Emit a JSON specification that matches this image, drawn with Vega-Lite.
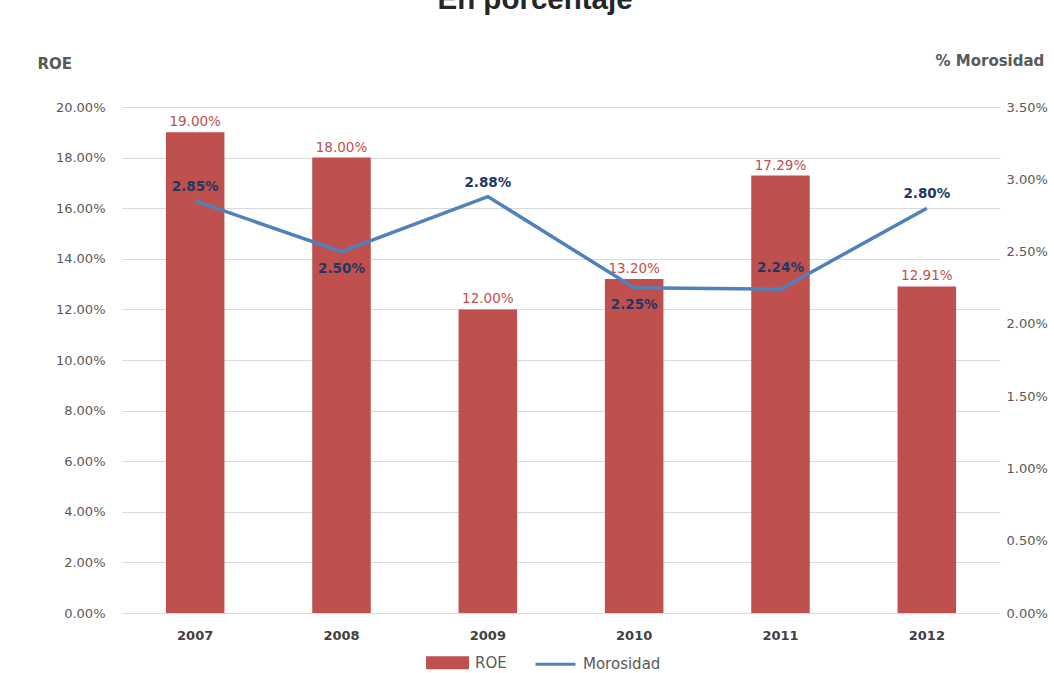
{
  "$schema": "https://vega.github.io/schema/vega-lite/v6.json",
  "autosize": {"type": "none"},
  "width": 878,
  "height": 506,
  "padding": {"left": 122, "top": 107, "right": 54, "bottom": 60},
  "background": "white",
  "title": {
    "text": "En porcentaje",
    "font": "Liberation Sans",
    "fontSize": 29.5,
    "fontWeight": "bold",
    "color": "#262626",
    "frame": "group",
    "anchor": "middle",
    "baseline": "alphabetic",
    "offset": 0,
    "dy": -15,
    "dx": -26
  },
  "config": {
    "view": {"stroke": null},
    "font": "DejaVu Sans"
  },
  "data": {
    "values": [
      {"year": "2007", "roe": 0.19, "moro": 0.0285},
      {"year": "2008", "roe": 0.18, "moro": 0.025},
      {"year": "2009", "roe": 0.12, "moro": 0.0288},
      {"year": "2010", "roe": 0.132, "moro": 0.0225},
      {"year": "2011", "roe": 0.1729, "moro": 0.0224},
      {"year": "2012", "roe": 0.1291, "moro": 0.028}
    ]
  },
  "encoding": {
    "x": {
      "field": "year",
      "type": "ordinal",
      "scale": {"paddingInner": 0.6, "paddingOuter": 0.3},
      "axis": {
        "title": null,
        "labelAngle": 0,
        "ticks": false,
        "domain": false,
        "labelPadding": 16,
        "labelFont": "DejaVu Sans",
        "labelFontWeight": "bold",
        "labelFontSize": 13,
        "labelColor": "#404040"
      }
    }
  },
  "layer": [
    {
      "encoding": {
        "y": {
          "field": "roe",
          "type": "quantitative",
          "scale": {"domain": [0, 0.2]},
          "axis": {
            "title": "ROE",
            "titleAngle": 0,
            "titleAlign": "left",
            "titleBaseline": "middle",
            "titleX": -85,
            "titleY": -44,
            "titleFont": "DejaVu Sans",
            "titleFontSize": 15,
            "titleFontWeight": "bold",
            "titleColor": "#595959",
            "values": [0, 0.02, 0.04, 0.06, 0.08, 0.1, 0.12, 0.14, 0.16, 0.18, 0.2],
            "format": ".2%",
            "grid": true,
            "gridColor": "#d9d9d9",
            "gridWidth": 1,
            "ticks": false,
            "domain": false,
            "labelPadding": 17,
            "labelFont": "DejaVu Sans",
            "labelFontSize": 13,
            "labelColor": "#595959"
          }
        }
      },
      "layer": [
        {
          "mark": {"type": "bar"},
          "encoding": {
            "color": {
              "datum": "ROE",
              "scale": {"domain": ["ROE", "Morosidad"], "range": ["#c0504d", "#4f81bd"]},
              "legend": {
                "title": null,
                "orient": "none",
                "direction": "horizontal",
                "legendX": 304,
                "legendY": 534,
                "padding": 0,
                "symbolSize": 1600,
                "labelOffset": 6,
                "columnPadding": 22,
                "labelFont": "DejaVu Sans",
                "labelFontSize": 15,
                "labelColor": "#595959",
                "encode": {
                  "symbols": {
                    "update": {
                      "shape": {"signal": "datum.value === 'ROE' ? 'M-1,-0.25L1,-0.25L1,0.25L-1,0.25Z' : 'stroke'"},
                      "fill": {"signal": "datum.value === 'ROE' ? '#c0504d' : 'transparent'"},
                      "stroke": {"signal": "datum.value === 'ROE' ? 'transparent' : '#4f81bd'"},
                      "strokeWidth": {"value": 3},
                      "opacity": {"value": 1}
                    }
                  }
                }
              }
            }
          }
        },
        {
          "mark": {
            "type": "text",
            "baseline": "bottom",
            "dy": -3,
            "font": "DejaVu Sans",
            "fontSize": 13.5,
            "color": "#c0504d"
          },
          "encoding": {
            "text": {"field": "roe", "type": "quantitative", "format": ".2%"}
          }
        }
      ]
    },
    {
      "encoding": {
        "y": {
          "field": "moro",
          "type": "quantitative",
          "scale": {"domain": [0, 0.035]},
          "axis": {
            "orient": "right",
            "title": "% Morosidad",
            "titleAngle": 0,
            "titleAlign": "left",
            "titleBaseline": "middle",
            "titleX": -65,
            "titleY": -47,
            "titleFont": "DejaVu Sans",
            "titleFontSize": 15,
            "titleFontWeight": "bold",
            "titleColor": "#595959",
            "values": [0, 0.005, 0.01, 0.015, 0.02, 0.025, 0.03, 0.035],
            "format": ".2%",
            "grid": false,
            "ticks": false,
            "domain": false,
            "labelPadding": 6,
            "labelFont": "DejaVu Sans",
            "labelFontSize": 13,
            "labelColor": "#595959"
          }
        }
      },
      "layer": [
        {
          "mark": {"type": "line", "strokeWidth": 3.5},
          "encoding": {"color": {"datum": "Morosidad"}}
        },
        {
          "transform": [{"filter": {"field": "year", "oneOf": ["2007", "2009", "2012"]}}],
          "mark": {
            "type": "text",
            "baseline": "middle",
            "dy": -14,
            "font": "DejaVu Sans",
            "fontWeight": "bold",
            "fontSize": 13.5,
            "color": "#1f3864"
          },
          "encoding": {"text": {"field": "moro", "type": "quantitative", "format": ".2%"}}
        },
        {
          "transform": [{"filter": {"field": "year", "oneOf": ["2011"]}}],
          "mark": {
            "type": "text",
            "baseline": "middle",
            "dy": -21,
            "font": "DejaVu Sans",
            "fontWeight": "bold",
            "fontSize": 13.5,
            "color": "#1f3864"
          },
          "encoding": {"text": {"field": "moro", "type": "quantitative", "format": ".2%"}}
        },
        {
          "transform": [{"filter": {"field": "year", "oneOf": ["2008", "2010"]}}],
          "mark": {
            "type": "text",
            "baseline": "middle",
            "dy": 17,
            "font": "DejaVu Sans",
            "fontWeight": "bold",
            "fontSize": 13.5,
            "color": "#1f3864"
          },
          "encoding": {"text": {"field": "moro", "type": "quantitative", "format": ".2%"}}
        }
      ]
    }
  ],
  "resolve": {"scale": {"y": "independent"}}
}
